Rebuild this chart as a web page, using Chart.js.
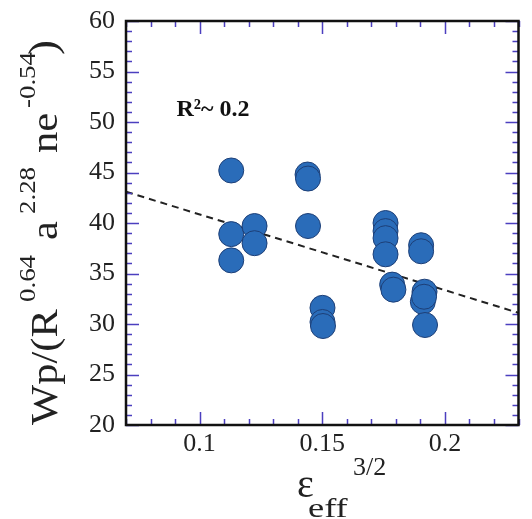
<!DOCTYPE html>
<html>
<head>
<meta charset="utf-8">
<script src="https://cdn.jsdelivr.net/npm/chart.js@4.4.0/dist/chart.umd.min.js"></script>
<style>
  body { margin: 0; background: #fff; }
  canvas { display: block; }
</style>
</head>
<body>
<canvas id="wpChart" width="532" height="519"></canvas>
<script>
// values
var epsX = [0.1129, 0.1129, 0.1129, 0.1224, 0.1224, 0.1440, 0.1442, 0.1442, 0.1501, 0.1501, 0.1503,
            0.1758, 0.1758, 0.1758, 0.1758, 0.1785, 0.1790, 0.1903, 0.1903, 0.1917, 0.1910, 0.1915, 0.1919];
var wpY  = [45.2, 38.9, 36.3, 39.7, 38.0, 44.8, 44.4, 39.7, 31.6, 30.2, 29.8,
            40.0, 39.2, 38.5, 36.9, 33.9, 33.4, 37.8, 37.2, 33.2, 32.2, 32.7, 29.9];
var fitX = [0.07, 0.23];
var fitY = [43.1, 31.1];
var xTicks = [0.1, 0.15, 0.2];
var yTicks = [20, 25, 30, 35, 40, 45, 50, 55, 60];
var xMinorStep = 0.01;
var yMinorStep = 1;

var serif = '"Liberation Serif", "DejaVu Serif", serif';
var tickColor = '#4b3fbf';

// y title pieces: text, font size, raise above baseline, offset along the text
var yTitle = [
  { t: 'Wp/(R', size: 38, rise: 0,  at: 0 },
  { t: '0.64',  size: 24, rise: 22, at: 123 },
  { t: 'a',     size: 38, rise: 0,  at: 185 },
  { t: '2.28',  size: 24, rise: 22, at: 211 },
  { t: 'ne',    size: 38, rise: 0,  at: 272 },
  { t: '-0.54', size: 24, rise: 22, at: 317 },
  { t: ')',     size: 40, rise: 1,  at: 370 }
];

var framePlugin = {
  id: 'frame',
  afterDatasetsDraw: function (chart) {
    var ctx = chart.ctx, a = chart.chartArea;
    var xs = chart.scales.x, ys = chart.scales.y;
    ctx.save();

    // inward ticks on all four sides
    ctx.strokeStyle = tickColor;
    ctx.lineWidth = 1.5;
    ctx.beginPath();
    for (var v = 0.07; v <= 0.2301; v += xMinorStep) {
      var major = xTicks.some(function (t) { return Math.abs(t - v) < 1e-6; });
      var px = Math.round(xs.getPixelForValue(v)) + 0.5;
      var len = major ? 13 : 6;
      ctx.moveTo(px, a.bottom); ctx.lineTo(px, a.bottom - len);
      ctx.moveTo(px, a.top); ctx.lineTo(px, a.top + len);
    }
    for (var w = 20; w <= 60; w += yMinorStep) {
      var py = Math.round(ys.getPixelForValue(w)) + 0.5;
      var l2 = (w % 5 === 0) ? 13 : 6;
      ctx.moveTo(a.left, py); ctx.lineTo(a.left + l2, py);
      ctx.moveTo(a.right, py); ctx.lineTo(a.right - l2, py);
    }
    ctx.stroke();

    // black frame
    ctx.strokeStyle = '#111';
    ctx.lineWidth = 2.5;
    ctx.strokeRect(a.left, a.top, a.right - a.left, a.bottom - a.top);

    // R^2 note
    ctx.fillStyle = '#111';
    ctx.font = 'bold 24px ' + serif;
    ctx.textBaseline = 'middle';
    ctx.fillText('R\u00b2~ 0.2', xs.getPixelForValue(0.0906), ys.getPixelForValue(51.2));

    // y axis title, rotated
    ctx.textBaseline = 'alphabetic';
    ctx.fillStyle = '#222';
    ctx.save();
    ctx.translate(57, 425);
    ctx.rotate(-Math.PI / 2);
    yTitle.forEach(function (p) {
      ctx.save();
      ctx.translate(p.at, -p.rise);
      ctx.scale(1.12, 1);
      ctx.font = p.size + 'px ' + serif;
      ctx.fillText(p.t, 0, 0);
      ctx.restore();
    });
    ctx.restore();

    // x axis title
    ctx.font = '40px ' + serif;
    ctx.fillText('\u03b5', 297, 497);
    ctx.save();
    ctx.translate(308, 517);
    ctx.scale(1.3, 1);
    ctx.font = '28px ' + serif;
    ctx.fillText('eff', 0, 0);
    ctx.restore();
    ctx.font = '26px ' + serif;
    ctx.fillText('3/2', 353, 475);

    ctx.restore();
  }
};

function build() {
  new Chart(document.getElementById('wpChart'), {
    type: 'scatter',
    data: {
      datasets: [{
        data: epsX.map(function (x, i) { return { x: x, y: wpY[i] }; }),
        backgroundColor: '#2a6cb9',
        borderColor: '#1d3f77',
        borderWidth: 1,
        pointRadius: 12.5,
        order: 0
      }, {
        type: 'line',
        data: fitX.map(function (x, i) { return { x: x, y: fitY[i] }; }),
        borderColor: '#222',
        borderWidth: 2,
        borderDash: [7, 5],
        pointRadius: 0,
        fill: false,
        order: 1
      }]
    },
    options: {
      responsive: false,
      animation: false,
      layout: { padding: { top: 21, right: 4, left: 0, bottom: 0 } },
      plugins: { legend: { display: false }, tooltip: { enabled: false } },
      scales: {
        x: {
          type: 'linear',
          min: 0.07,
          max: 0.23,
          afterBuildTicks: function (s) { s.ticks = xTicks.map(function (v) { return { value: v }; }); },
          afterFit: function (s) { s.height = 94; },
          grid: { display: false },
          border: { display: false },
          ticks: { color: '#222', padding: -4, font: { family: serif, size: 26 },
                   callback: function (v) { return String(v); } }
        },
        y: {
          min: 20,
          max: 60,
          afterBuildTicks: function (s) { s.ticks = yTicks.map(function (v) { return { value: v }; }); },
          afterFit: function (s) { s.width = 126; },
          grid: { display: false },
          border: { display: false },
          ticks: { color: '#222', padding: 3, font: { family: serif, size: 26 } }
        }
      }
    },
    plugins: [framePlugin]
  });
}

if (document.fonts && document.fonts.load) {
  Promise.all([
    document.fonts.load('26px "Liberation Serif"'),
    document.fonts.load('bold 24px "Liberation Serif"')
  ]).then(build, build);
} else {
  build();
}
</script>
</body>
</html>
